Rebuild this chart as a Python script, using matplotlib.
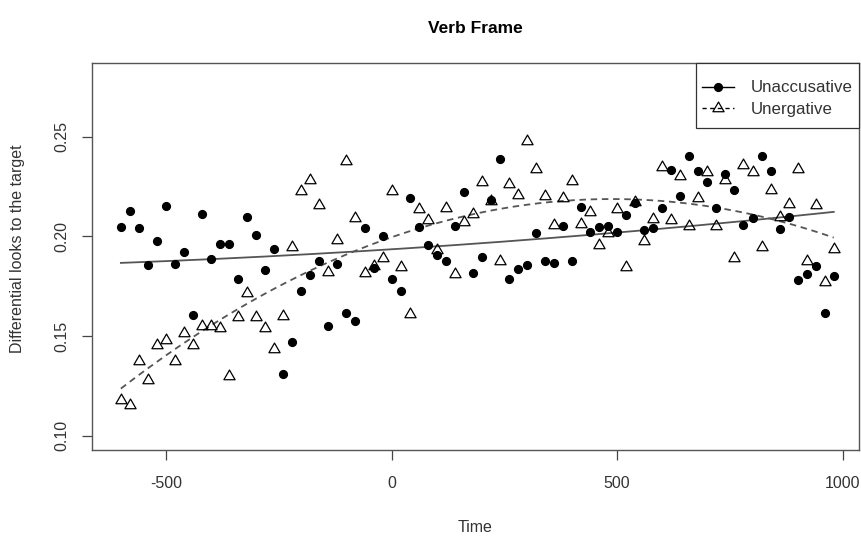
# Verb Frame: differential looks to the target over time
import numpy as np
import matplotlib
matplotlib.use("Agg")
import matplotlib.pyplot as plt
from matplotlib.path import Path
from matplotlib.patches import Rectangle

plt.rcParams['font.family'] = ['Liberation Sans', 'DejaVu Sans']

# time bins (ms), one every 20 ms
time = np.arange(-600, 1000, 20)

unaccusative = [
    0.2047, 0.2125, 0.2040, 0.1857, 0.1978, 0.2152, 0.1863, 0.1923, 0.1605, 0.2113,   # -600..-420
    0.1888, 0.1963, 0.1963, 0.1788, 0.2097, 0.2007, 0.1832, 0.1935, 0.1310, 0.1468,   # -400..-220
    0.1727, 0.1805, 0.1877, 0.1552, 0.1863, 0.1615, 0.1577, 0.2040, 0.1843, 0.2002,   # -200..-20
    0.1788, 0.1727, 0.2190, 0.2047, 0.1957, 0.1905, 0.1877, 0.2052, 0.2222, 0.1818,   # 0..180
    0.1897, 0.2182, 0.2388, 0.1785, 0.1838, 0.1857, 0.2018, 0.1877, 0.1865, 0.2052,   # 200..380
    0.1877, 0.2147, 0.2023, 0.2047, 0.2052, 0.2023, 0.2107, 0.2168, 0.2030, 0.2040,   # 400..580
    0.2140, 0.2335, 0.2202, 0.2402, 0.2330, 0.2273, 0.2140, 0.2315, 0.2232, 0.2055,   # 600..780
    0.2090, 0.2405, 0.2330, 0.2035, 0.2097, 0.1782, 0.1810, 0.1852, 0.1615, 0.1802,   # 800..980
]

unergative = [
    0.1180, 0.1152, 0.1372, 0.1277, 0.1455, 0.1480, 0.1377, 0.1515, 0.1455, 0.1550,   # -600..-420
    0.1548, 0.1538, 0.1297, 0.1597, 0.1718, 0.1597, 0.1538, 0.1435, 0.1598, 0.1948,   # -400..-220
    0.2227, 0.2282, 0.2157, 0.1822, 0.1982, 0.2380, 0.2093, 0.1818, 0.1852, 0.1893,   # -200..-20
    0.2227, 0.1848, 0.1610, 0.2135, 0.2082, 0.1932, 0.2143, 0.1810, 0.2072, 0.2113,   # 0..180
    0.2273, 0.2177, 0.1877, 0.2263, 0.2207, 0.2477, 0.2338, 0.2200, 0.2055, 0.2190,   # 200..380
    0.2280, 0.2063, 0.2123, 0.1957, 0.2018, 0.2135, 0.1847, 0.2173, 0.1977, 0.2088,   # 400..580
    0.2348, 0.2080, 0.2305, 0.2052, 0.2190, 0.2323, 0.2052, 0.2282, 0.1893, 0.2357,   # 600..780
    0.2323, 0.1948, 0.2232, 0.2098, 0.2160, 0.2338, 0.1877, 0.2155, 0.1773, 0.1935,   # 800..980
]

x_ticks = [-500, 0, 500, 1000]
y_ticks = [0.10, 0.15, 0.20, 0.25]

# quadratic growth-curve fits for each condition
t_fine = np.linspace(time.min(), time.max(), 300)
fit_acc = np.polyval(np.polyfit(time, unaccusative, 2), t_fine)
fit_erg = np.polyval(np.polyfit(time, unergative, 2), t_fine)

# R style open triangle (pch = 2), centred on its centroid
tri = Path([(-1, -0.577), (1, -0.577), (0, 1.155), (-1, -0.577)], closed=True)

W, H = 862, 536
AX_H = 387.5
fig = plt.figure(figsize=(W / 100, H / 100), dpi=100)
ax = fig.add_axes([92 / W, 1 - 450 / H, 767 / W, AX_H / H])

line_col = '#555555'
ax.plot(t_fine, fit_acc, color=line_col, lw=1.3, ls='-', zorder=2)
ax.plot(t_fine, fit_erg, color=line_col, lw=1.3, ls=(0, (3.6, 2.6)), zorder=2)

ax.plot(time, unaccusative, ls='none', marker='o', ms=5.6, color='black', zorder=3)
ax.plot(time, unergative, ls='none', marker=tri, ms=9.3, mfc='none', mec='black',
        mew=0.9, zorder=3)

# legend: R style box (wide vertical padding, tight horizontal)
ax.add_patch(Rectangle((1 - 163 / 767, 1 - 65.5 / AX_H), 163 / 767, 65.5 / AX_H,
                       transform=ax.transAxes, facecolor='white', edgecolor='#333333',
                       lw=0.9, zorder=4, clip_on=False))
h1, = ax.plot([], [], color='black', lw=1.0, marker='o', ms=5.6)
h2, = ax.plot([], [], color='black', lw=1.0, ls=(0, (3, 2.5)), marker=tri, ms=9.3,
              mfc='none', mec='black', mew=0.9)
leg = ax.legend([h1, h2], ['Unaccusative', 'Unergative'], loc='upper right',
                bbox_to_anchor=(1.0, 1 - 12 / AX_H), borderaxespad=0, frameon=False,
                fontsize=12.2, handlelength=1.9, handletextpad=1.0, labelspacing=0.38,
                borderpad=0.35, numpoints=1)
leg.set_zorder(5)
for txt in leg.get_texts():
    txt.set_color('#333333')

ax.set_xlim(-664, 1036)
ax.set_ylim(0.0928, 0.2872)
ax.set_xticks(x_ticks)
ax.set_xticklabels([str(v) for v in x_ticks])
ax.set_yticks(y_ticks)
ax.set_yticklabels([f'{v:.2f}' for v in y_ticks], rotation=90, va='center')
ax.tick_params(length=7, width=0.9, color='#444444', labelsize=11.5,
               labelcolor='#333333', pad=9)
ax.tick_params(axis='x', pad=12)

for s in ax.spines.values():
    s.set_color('#555555')
    s.set_linewidth(1.0)

ax.set_xlabel('Time', fontsize=11.5, color='#333333')
ax.xaxis.set_label_coords(0.5, -0.199)
ax.xaxis.label.set_va('center')
ax.set_ylabel('Differential looks to the target', fontsize=11.5, color='#333333')
ax.yaxis.set_label_coords(-0.0965, 0.52)
ax.yaxis.label.set_va('center')

ax.set_title('Verb Frame', fontsize=12.5, fontweight='bold', y=1 + 34.5 / AX_H,
             va='center', pad=0)

fig.savefig('out.png', dpi=100)
